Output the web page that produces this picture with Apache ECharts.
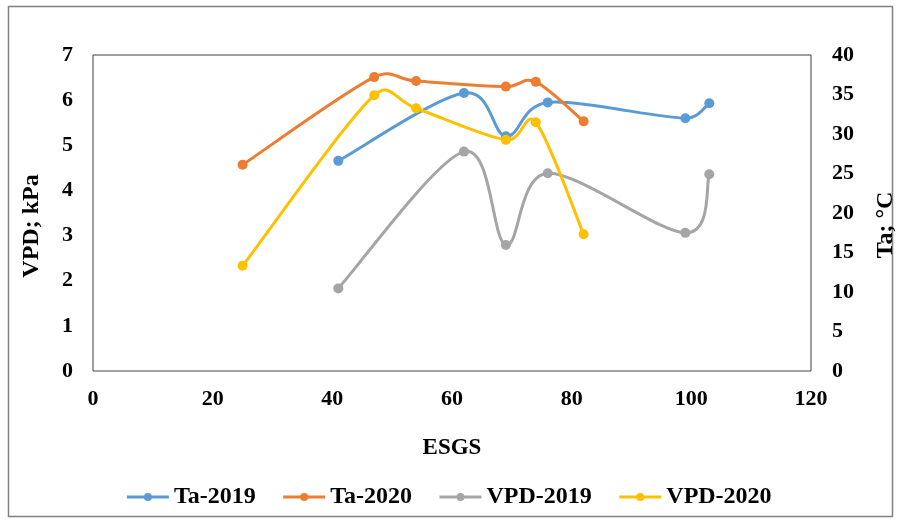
<!DOCTYPE html>
<html>
<head>
<meta charset="utf-8">
<script src="https://cdn.jsdelivr.net/npm/echarts@6/dist/echarts.min.js"></script>
<style>html,body{margin:0;padding:0;background:#fff}#c{width:897px;height:520px}</style>
</head>
<body>
<div id="c"></div>
<script>
// Data
const esgs2019 = [41, 62, 69, 76, 99, 103];
const esgs2020 = [25, 47, 54, 69, 74, 82];
const ta2019 = [26.6, 35.2, 29.7, 34.0, 32.0, 33.9];
const ta2020 = [26.1, 37.2, 36.7, 36.0, 36.6, 31.6];
const vpd2019 = [1.83, 4.86, 2.79, 4.38, 3.06, 4.36];
const vpd2020 = [2.33, 6.11, 5.82, 5.12, 5.51, 3.03];
const seriesNames = ['Ta-2019', 'Ta-2020', 'VPD-2019', 'VPD-2020'];
const xTitle = 'ESGS';
const leftTitle = 'VPD; kPa';
const rightTitle = 'Ta; °C';

const FONT = '"Liberation Serif", "Times New Roman", serif';
const colors = ['#5B9BD5', '#ED7D31', '#A5A5A5', '#FFC000'];
const pairs = (xs, ys) => xs.map((x, i) => [x, ys[i]]);

const chart = echarts.init(document.getElementById('c'));

// markers + legend entries
const markers = (name, data, yIdx, color) => ({
  name, type: 'line', yAxisIndex: yIdx, data, z: 5,
  symbol: 'circle', symbolSize: 10, showSymbol: true,
  lineStyle: { width: 3, color, opacity: 0 }, itemStyle: { color },
  emphasis: { disabled: true }, silent: true
});
// spreadsheet-style smoothing (tension 1/6, arm capped at half segment) through axis coords
const curve = (name, data, yIdx, color) => ({
  name: name + ' curve', type: 'custom', yAxisIndex: yIdx, data, z: 3, silent: true,
  encode: { x: 0, y: 1 },
  renderItem: function (params, api) {
    const i = params.dataIndex, n = data.length;
    if (i >= n - 1) return null;
    const P = k => api.coord(data[Math.max(0, Math.min(n - 1, k))]);
    const p0 = P(i - 1), p1 = P(i), p2 = P(i + 1), p3 = P(i + 2);
    const dist = (a, b) => Math.hypot(b[0] - a[0], b[1] - a[1]);
    const d12 = dist(p1, p2), d02 = dist(p0, p2), d13 = dist(p1, p3);
    const f1 = d02 > 0 ? Math.min(1 / 6, d12 / (2 * d02)) : 0;
    const f2 = d13 > 0 ? Math.min(1 / 6, d12 / (2 * d13)) : 0;
    return {
      type: 'bezierCurve',
      shape: {
        x1: p1[0], y1: p1[1], x2: p2[0], y2: p2[1],
        cpx1: p1[0] + (p2[0] - p0[0]) * f1, cpy1: p1[1] + (p2[1] - p0[1]) * f1,
        cpx2: p2[0] - (p3[0] - p1[0]) * f2, cpy2: p2[1] - (p3[1] - p1[1]) * f2
      },
      style: { stroke: color, lineWidth: 3, fill: null, lineCap: 'round' }
    };
  }
});

chart.setOption({
  animation: false,
  backgroundColor: '#fff',
  color: colors,
  textStyle: { fontFamily: FONT },
  grid: { left: 93, right: 86, top: 55, bottom: 149, show: true, borderColor: '#404040', borderWidth: 1, backgroundColor: 'transparent' },
  xAxis: {
    type: 'value', min: 0, max: 120, interval: 20,
    name: xTitle, nameLocation: 'middle', nameGap: 66,
    nameTextStyle: { fontFamily: FONT, fontWeight: 'bold', fontSize: 23, color: '#000' },
    axisLine: { show: false }, axisTick: { show: false }, splitLine: { show: false },
    axisLabel: { fontFamily: FONT, fontWeight: 'bold', fontSize: 22, color: '#000', margin: 17 }
  },
  yAxis: [
    { type: 'value', min: 0, max: 7, interval: 1, position: 'left',
      axisLine: { show: false }, axisTick: { show: false }, splitLine: { show: false },
      axisLabel: { fontFamily: FONT, fontWeight: 'bold', fontSize: 22, color: '#000', margin: 20 } },
    { type: 'value', min: 0, max: 40, interval: 5, position: 'right',
      axisLine: { show: false }, axisTick: { show: false }, splitLine: { show: false },
      axisLabel: { fontFamily: FONT, fontWeight: 'bold', fontSize: 22, color: '#000', margin: 21 } }
  ],
  legend: {
    data: seriesNames, bottom: 6, left: 'center', itemWidth: 42, itemHeight: 10, itemGap: 26,
    lineStyle: { opacity: 1, width: 3 },
    textStyle: { fontFamily: FONT, fontWeight: 'bold', fontSize: 24, color: '#000' }
  },
  graphic: [
    { type: 'rect', shape: { x: 8.5, y: 6.5, width: 884, height: 510 }, style: { fill: 'none', stroke: '#808080', lineWidth: 1.5 }, silent: true, z: -10 },
    { type: 'text', x: 32, y: 226, rotation: Math.PI / 2, style: { text: leftTitle, font: 'bold 24px ' + FONT, fill: '#000', textAlign: 'center', textVerticalAlign: 'middle' } },
    { type: 'text', x: 886, y: 225, rotation: Math.PI / 2, style: { text: rightTitle, font: 'bold 24px ' + FONT, fill: '#000', textAlign: 'center', textVerticalAlign: 'middle' } }
  ],
  series: [
    curve(seriesNames[0], pairs(esgs2019, ta2019), 1, colors[0]),
    curve(seriesNames[1], pairs(esgs2020, ta2020), 1, colors[1]),
    curve(seriesNames[2], pairs(esgs2019, vpd2019), 0, colors[2]),
    curve(seriesNames[3], pairs(esgs2020, vpd2020), 0, colors[3]),
    markers(seriesNames[0], pairs(esgs2019, ta2019), 1, colors[0]),
    markers(seriesNames[1], pairs(esgs2020, ta2020), 1, colors[1]),
    markers(seriesNames[2], pairs(esgs2019, vpd2019), 0, colors[2]),
    markers(seriesNames[3], pairs(esgs2020, vpd2020), 0, colors[3])
  ]
});
</script>
</body>
</html>
